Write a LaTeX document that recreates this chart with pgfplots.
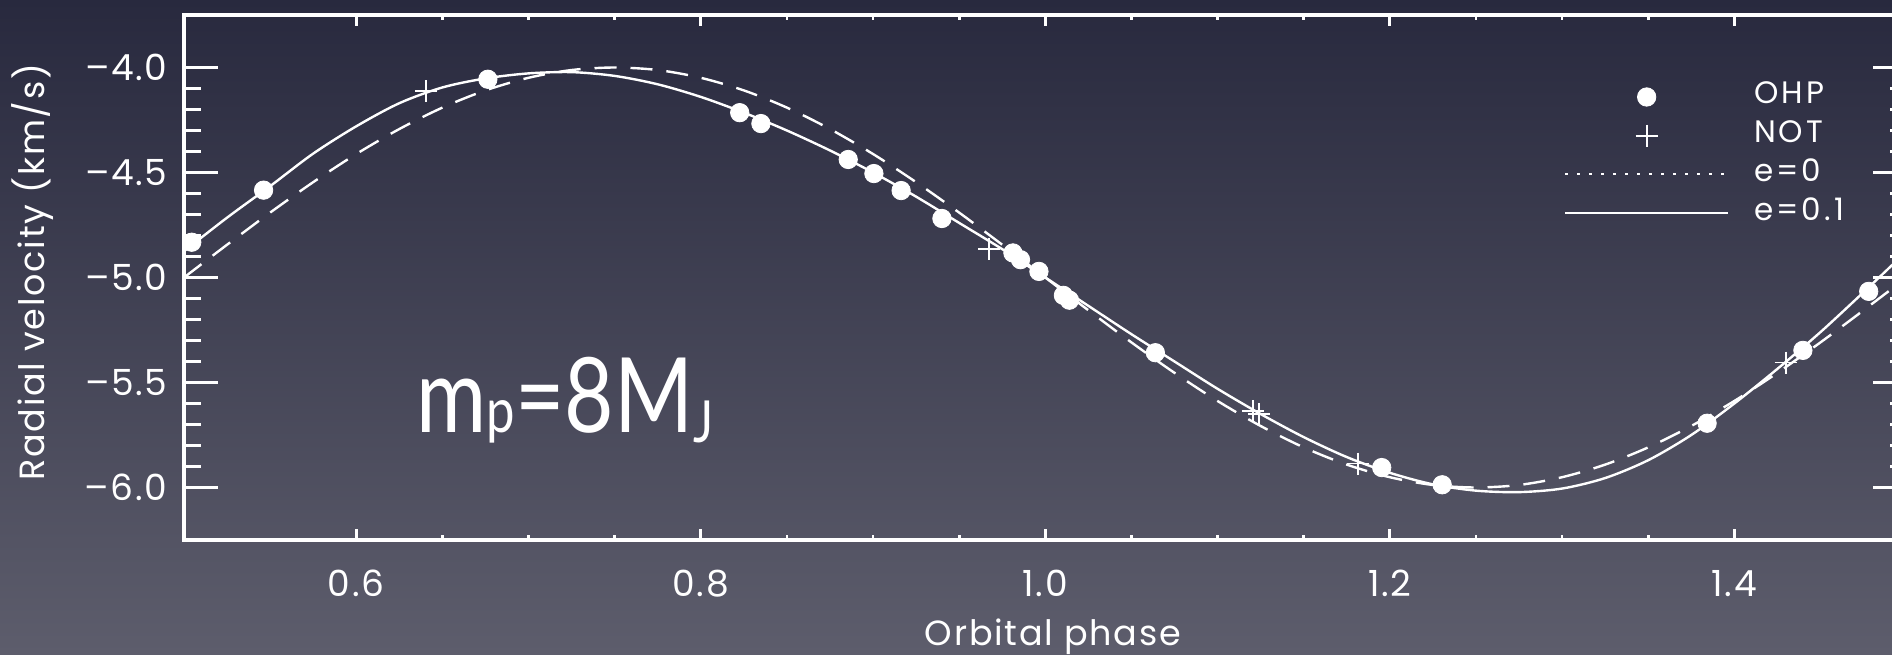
\documentclass[border=0pt]{standalone}
\usepackage{pgfplots}
\pgfplotsset{compat=1.18}
\usepackage{pgfplotstable}
\usepackage{fontspec}
\setmainfont{Poppins}
\newfontfamily\spaced[LetterSpace=5]{Poppins}
\newfontfamily\wide[LetterSpace=10]{Poppins}
\newfontfamily\latofont{Lato}
\definecolor{bgtop}{RGB}{40,41,62}
\definecolor{bgbot}{RGB}{93,93,108}

\pgfplotstableread{
ph v
0.5045 -4.832
0.5462 -4.584
0.6764 -4.056
0.8226 -4.215
0.8349 -4.267
0.8856 -4.438
0.9005 -4.505
0.9163 -4.586
0.9400 -4.719
0.9812 -4.883
0.9856 -4.915
0.9963 -4.971
1.0105 -5.085
1.0140 -5.108
1.0639 -5.358
1.1953 -5.905
1.2304 -5.987
1.3842 -5.694
1.4398 -5.347
1.4780 -5.066
}\ohp

\pgfplotstableread{
ph v
0.6406 -4.112
0.9674 -4.864
1.1205 -5.635
1.1240 -5.650
1.1817 -5.886
1.4298 -5.405
}\nott

\pgfplotstableread{
ph v
0.500 -4.875
0.525 -4.715
0.550 -4.565
0.575 -4.410
0.600 -4.280
0.625 -4.170
0.650 -4.095
0.675 -4.052
0.700 -4.028
0.725 -4.022
0.750 -4.040
0.775 -4.080
0.800 -4.140
0.825 -4.215
0.850 -4.300
0.875 -4.395
0.900 -4.500
0.925 -4.615
0.950 -4.740
0.975 -4.865
1.000 -5.000
1.025 -5.135
1.050 -5.270
1.075 -5.400
1.100 -5.530
1.125 -5.650
1.150 -5.760
1.175 -5.855
1.200 -5.930
1.225 -5.985
1.250 -6.015
1.275 -6.022
1.300 -6.005
1.325 -5.955
1.350 -5.870
1.375 -5.750
1.400 -5.600
1.425 -5.435
1.450 -5.260
1.475 -5.070
1.500 -4.875
}\eone

\pgfplotstableread{
ph v
0.500 -5.000
0.525 -4.844
0.550 -4.691
0.575 -4.546
0.600 -4.412
0.625 -4.293
0.650 -4.191
0.675 -4.109
0.700 -4.049
0.725 -4.012
0.750 -4.000
0.775 -4.012
0.800 -4.049
0.825 -4.109
0.850 -4.191
0.875 -4.293
0.900 -4.412
0.925 -4.546
0.950 -4.691
0.975 -4.844
1.000 -5.000
1.025 -5.156
1.050 -5.309
1.075 -5.454
1.100 -5.588
1.125 -5.707
1.150 -5.809
1.175 -5.891
1.200 -5.951
1.225 -5.988
1.250 -6.000
1.275 -5.988
1.300 -5.951
1.325 -5.891
1.350 -5.809
1.375 -5.707
1.400 -5.588
1.425 -5.454
1.450 -5.309
1.475 -5.156
1.500 -5.000
}\ezero

\begin{document}
\begin{tikzpicture}
\shade[top color=bgtop, bottom color=bgbot] (-92pt,-57pt) rectangle (854pt,270pt);
\begin{axis}[
  scale only axis, width=861.3pt, height=262.5pt,
  xmin=0.5, xmax=1.5, ymin=-6.25, ymax=-3.75,
  axis line style={white, line width=1.75pt},
  tick style={white, line width=1.4pt},
  tick align=inside,
  major tick length=17pt, minor tick length=8.5pt,
  x tick style={/pgfplots/major tick length=5.5pt, /pgfplots/minor tick length=2.5pt},
  xtick={0.6,0.8,1.0,1.2,1.4},
  xticklabels={0.6,0.8,1.0,1.2,1.4},
  minor x tick num=3,
  ytick={-6,-5.5,-5,-4.5,-4},
  yticklabels={\textendash6.0,\textendash5.5,\textendash5.0,\textendash4.5,\textendash4.0},
  minor y tick num=4,
  xticklabel style={anchor=base, yshift=-28pt, text=white, font=\spaced\fontsize{18}{20}\selectfont},
  yticklabel style={anchor=east, inner sep=0pt, xshift=-8pt, text=white, font=\spaced\fontsize{18}{20}\selectfont},
  every axis x label/.style={at={(axis description cs:0.5045,0)}, anchor=base, yshift=-52.5pt, text=white, font=\spaced\fontsize{17.5}{20}\selectfont},
  every axis y label/.style={at={(axis description cs:-0.0877,0.51)}, anchor=center, rotate=90, text=white, font=\spaced\fontsize{17.5}{20}\selectfont},
  xlabel={Orbital phase},
  ylabel={Radial velocity (km/s)},
  legend style={draw=none, fill=none, text=white, font=\wide\fontsize{15.5}{18}\selectfont,
    at={(axis description cs:0.8011,0.8807)}, anchor=north west,
    inner sep=0pt, outer sep=0pt, row sep=0pt, column sep=12.35pt,
    nodes={inner sep=0pt, text height=0.7em, text depth=0pt, anchor=west}},
  legend cell align=left,
]
\addplot[white, line width=1.2pt, dash pattern=on 11pt off 7pt, smooth, forget plot] table[x=ph,y=v] {\ezero};
\addplot[white, line width=1.2pt, smooth, forget plot] table[x=ph,y=v] {\eone};
\addplot[only marks, mark=*, mark size=4.6pt, white, forget plot] table[x=ph,y=v] {\ohp};
\addplot[only marks, mark=+, mark size=5.5pt, white, line width=0.9pt, forget plot] table[x=ph,y=v] {\nott};

\addlegendimage{legend image code/.code={\path[draw=none,fill=none] (0pt,-9.675pt) rectangle (81.5pt,9.675pt); \draw[white,fill=white] plot[mark=*, mark size=4.6pt, only marks] coordinates {(40.75pt,0pt)};}}
\addlegendentry{OHP}
\addlegendimage{legend image code/.code={\path[draw=none,fill=none] (0pt,-9.675pt) rectangle (81.5pt,9.675pt); \draw[white, line width=0.9pt] plot[mark=+, mark size=5.5pt, only marks] coordinates {(40.75pt,0pt)};}}
\addlegendentry{NOT}
\addlegendimage{legend image code/.code={\path[draw=none,fill=none] (0pt,-9.675pt) rectangle (81.5pt,9.675pt); \draw[white, line width=1.1pt, dash pattern=on 1.2pt off 4.8pt] (0pt,0pt) -- (81.5pt,0pt);}}
\addlegendentry{e=0}
\addlegendimage{legend image code/.code={\path[draw=none,fill=none] (0pt,-9.675pt) rectangle (81.5pt,9.675pt); \draw[white, line width=1.2pt] (0pt,0pt) -- (81.5pt,0pt);}}
\addlegendentry{e=0.1}

\node[anchor=base west, text=white, inner sep=0pt] at (axis description cs:0.1347,0.2057)
  {\scalebox{0.82}[1]{\latofont\fontsize{52}{60}\selectfont m{\fontsize{31}{36}\selectfont p}=8M\raisebox{-5pt}{\fontsize{29}{36}\selectfont J}}};
\end{axis}
\pgfresetboundingbox
\path[use as bounding box] (-92pt,-57pt) rectangle (854pt,270pt);
\end{tikzpicture}
\end{document}
